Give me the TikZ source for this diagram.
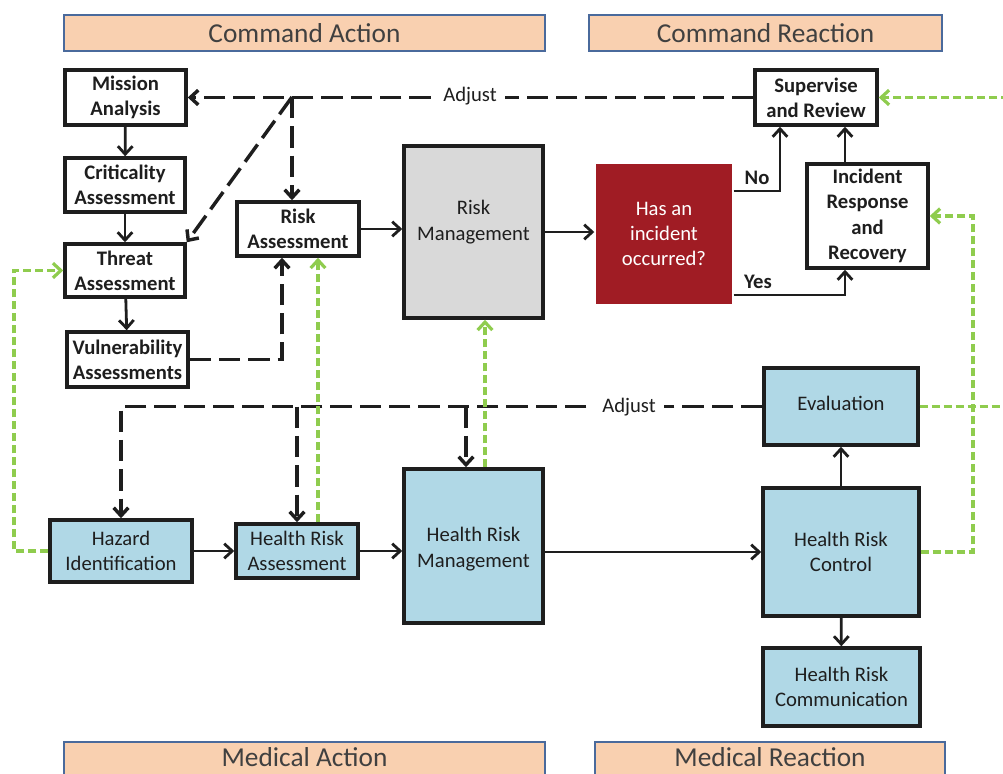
\documentclass[tikz,border=0pt]{standalone}
\usepackage{fontspec}
\setmainfont{Carlito}
\usetikzlibrary{arrows.meta,calc}

\definecolor{peach}{HTML}{F9D0B0}
\definecolor{bannerline}{HTML}{4A6A9C}
\definecolor{paleblue}{HTML}{B0D8E6}
\definecolor{boxgray}{HTML}{D9D9D9}
\definecolor{alarmred}{HTML}{A01C24}
\definecolor{fbgreen}{HTML}{8FCC4E}
\definecolor{ink}{HTML}{1E1E1E}

\tikzset{
  banner/.style={draw=bannerline, line width=1.8pt, fill=peach, text=ink!85,
    inner sep=0pt, font=\fontsize{20.5}{23}\selectfont},
  cmdbox/.style={draw=ink, line width=2.6pt, fill=white, text=ink, align=center,
    inner sep=0pt, font=\fontsize{15.5}{19}\selectfont\bfseries},
  medbox/.style={draw=ink, line width=2.6pt, fill=paleblue, text=ink, align=center,
    inner sep=0pt, font=\fontsize{15.5}{19}\selectfont},
  graybox/.style={medbox, fill=boxgray},
  redbox/.style={medbox, draw=none, fill=alarmred, text=white},
  boxtext/.style={text=ink, align=center, inner sep=0pt, font=\fontsize{15.5}{19}\selectfont},
  bannertext/.style={text=ink!85, inner sep=0pt, font=\fontsize{20.5}{23}\selectfont},
  arr/.style={-{Straight Barb[length=6pt,width=11pt]}},
  flow/.style={draw=ink, line width=2.1pt, arr},
  adjust/.style={draw=ink, line width=2.6pt, dash pattern=on 16pt off 6pt},
  feedback/.style={draw=fbgreen, line width=2.4pt, dash pattern=on 6pt off 3pt},
  lbl/.style={text=ink, inner sep=2pt, font=\fontsize{15.5}{19}\selectfont}
}

\begin{document}
\begin{tikzpicture}[x=0.75pt,y=-0.75pt]
\useasboundingbox (0,0) rectangle (1003,774);

% banners
\node[banner, minimum width=360.75pt, minimum height=27pt] (bca) at (304.5,33) {Command Action};
\node[banner, minimum width=264.75pt, minimum height=27pt] (bcr) at (765.5,33) {Command Reaction};
\node[banner, minimum width=360.75pt, minimum height=27pt] (bma) at (304.5,760) {};
\node[bannertext] (bmatxt) at (304.5,757) {Medical Action};
\node[banner, minimum width=262.5pt, minimum height=27pt] (bmr) at (770,760) {};
\node[bannertext] (bmrtxt) at (770,757) {Medical Reaction};

% command side
\node[cmdbox, minimum width=90.75pt, minimum height=41.25pt] (ma) at (125.5,97.5) {Mission\\Analysis};
\node[cmdbox, minimum width=90pt, minimum height=40.5pt] (crit) at (125,185) {Criticality\\Assessment};
\node[cmdbox, minimum width=90pt, minimum height=39.75pt] (thr) at (125,270.5) {Threat\\Assessment};
\node[cmdbox, minimum width=90.75pt, minimum height=41.25pt] (vul) at (127.5,359.5) {Vulnerability\\Assessments};
\node[cmdbox, minimum width=91.5pt, minimum height=40.5pt] (ra) at (298,229) {Risk\\Assessment};
\node[graybox, minimum width=104.25pt, minimum height=129pt] (rm) at (473.5,232) {};
\node[boxtext] (rmtxt) at (473.5,222) {Risk\\Management};
\node[redbox, minimum width=102pt, minimum height=105pt] (inc) at (664,234) {Has an\\incident\\occurred?};
\node[cmdbox, minimum width=91.5pt, minimum height=41.25pt] (sr) at (816,97.5) {Supervise\\and Review};
\node[cmdbox, minimum width=90.75pt, minimum height=78pt] (irr) at (867.5,216) {Incident\\Response\\and\\Recovery};

% medical side
\node[medbox, minimum width=106.5pt, minimum height=46.5pt] (hz) at (121,551) {Hazard\\Identification};
\node[medbox, minimum width=91.5pt, minimum height=40.5pt] (hra) at (297,551) {Health Risk\\Assessment};
\node[medbox, minimum width=104.25pt, minimum height=115.5pt] (hrm) at (473.5,546) {};
\node[boxtext] (hrmtxt) at (473.5,549) {Health Risk\\Management};
\node[medbox, minimum width=115.5pt, minimum height=57.75pt] (ev) at (841,406.5) {};
\node[boxtext] (evtxt) at (841,403) {Evaluation};
\node[medbox, minimum width=117pt, minimum height=96pt] (hrc) at (841,552) {Health Risk\\Control};
\node[medbox, minimum width=117.75pt, minimum height=58.5pt] (hcom) at (841.5,687) {Health Risk\\Communication};

% helper positions for off-centre connectors
\coordinate (jtop) at (292,97);
\coordinate (vx) at (282,0);
\coordinate (nox) at (780,0);
\coordinate (yesx) at (845,0);
\coordinate (noy) at (0,191);
\coordinate (yesy) at (0,295);
\coordinate (hrmdrop) at (466,0);
\coordinate (leftrail) at (14,0);
\coordinate (midrail) at (973,0);
\coordinate (farrail) at (1008,0);
\coordinate (hraup) at (318,0);
\coordinate (hrmup) at (485,0);

% solid flow, command side
\draw[flow] (ma) -- (crit);
\draw[flow] (crit) -- (thr);
\draw[flow] (thr) -- (vul);
\draw[flow] (ra.east) -- (ra.east -| rm.west);
\draw[flow] (rm.east) -- (rm.east -| inc.west);
\draw[flow] (inc.east |- noy) -| (sr.south -| nox);
\draw[flow] (inc.east |- yesy) -| (irr.south -| yesx);
\draw[flow] (irr.north -| yesx) -- (sr.south -| yesx);
\node[lbl, font=\fontsize{15.5}{19}\selectfont\bfseries] (nolbl) at (757,178) {No};
\node[lbl, font=\fontsize{15.5}{19}\selectfont\bfseries] (yeslbl) at (758,282) {Yes};

% command-side adjustment loop
\draw[adjust, arr] (sr.west) -- (ma.east);
\draw[adjust, arr] (jtop) -- (jtop |- ra.north);
\draw[adjust, arr] (jtop) -- (thr.north east);
\node[lbl, fill=white, inner xsep=6pt] (adj1) at (470,96) {Adjust};
\draw[adjust, arr] (vul.east) -| (ra.south -| vx);

% solid flow, medical side
\draw[flow] (hz.east) -- (hra.west);
\draw[flow] (hra.east) -- (hra.east -| hrm.west);
\draw[flow] (hrm.east |- hrc.west) -- (hrc.west);
\draw[flow] (hrc) -- (ev);
\draw[flow] (hrc) -- (hcom);

% medical-side adjustment loop
\draw[adjust, arr] (ev.west) -| (hz.north);
\draw[adjust, arr] (ev.west -| hra.north) -- (hra.north);
\draw[adjust, arr] (ev.west -| hrmdrop) -- (hrm.north -| hrmdrop);
\node[lbl, fill=white, inner xsep=6pt] (adj2) at (629,407) {Adjust};

% medical-to-command feedback
\draw[feedback, arr] (hz.west) -- (hz.west -| leftrail) |- (thr.west);
\draw[feedback, arr] (hra.north -| hraup) -- (ra.south -| hraup);
\draw[feedback, arr] (hrm.north -| hrmup) -- (rm.south -| hrmup);
\draw[feedback, arr] (hrc.east) -- (hrc.east -| midrail) |- (irr.east);
\draw[feedback, arr] (ev.east) -- (ev.east -| farrail) |- (sr.east);
\end{tikzpicture}
\end{document}
